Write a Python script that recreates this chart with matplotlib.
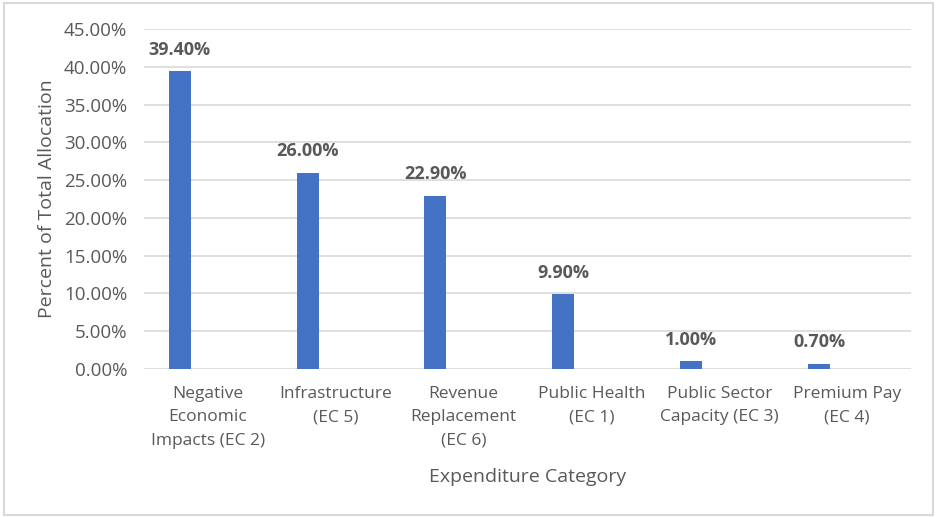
import matplotlib
matplotlib.use("Agg")
import matplotlib.pyplot as plt
from matplotlib.patches import Rectangle
import numpy as np

categories = ["Negative\nEconomic\nImpacts (EC 2)", "Infrastructure\n(EC 5)",
              "Revenue\nReplacement\n(EC 6)", "Public Health\n(EC 1)",
              "Public Sector\nCapacity (EC 3)", "Premium Pay\n(EC 4)"]
shares = [39.4, 26.0, 22.9, 9.9, 1.0, 0.7]
yticks = np.arange(0, 46, 5)

BLUE = "#4472C4"
TXT = "#595959"
GRID = "#D9D9D9"

plt.rcParams["font.family"] = ["Open Sans", "DejaVu Sans"]

fig = plt.figure(figsize=(9.37, 5.17), dpi=100)
fig.patches.append(Rectangle((0.004, 0.004), 0.992, 0.99, transform=fig.transFigure,
                             fill=False, edgecolor=GRID, lw=1.5))
ax = fig.add_axes([0.1537, 0.2863, 0.8186, 0.6576])

x = np.arange(len(categories))
bar_x = x - 0.22                      # Excel-style offset (empty second series)
ax.bar(bar_x, shares, width=0.172, color=BLUE, zorder=3)
for bx, v in zip(bar_x, shares):
    ax.annotate(f"{v:.2f}%", (bx, v), xytext=(0, 9), textcoords="offset points",
                ha="center", va="bottom", fontsize=13, fontweight="bold", color=TXT)

ax.set_xlim(-0.5, len(categories) - 0.5)
ax.set_ylim(0, 45)
ax.set_yticks(yticks)
ax.set_yticklabels([f"{t:.2f}%" for t in yticks])
ax.set_xticks(x)
ax.set_xticklabels(categories, linespacing=1.62)
ax.tick_params(axis="both", length=0, labelcolor=TXT)
ax.tick_params(axis="x", pad=12, labelsize=12.5)
ax.tick_params(axis="y", pad=12, labelsize=13.5)
ax.grid(axis="y", color=GRID, lw=1.2, zorder=0)
for s in ax.spines.values():
    s.set_visible(False)

ax.set_ylabel("Percent of Total Allocation", fontsize=14, color=TXT, va="center")
ax.yaxis.set_label_coords(-0.126, 0.5)
ax.set_xlabel("Expenditure Category", fontsize=14, color=TXT, va="center")
ax.xaxis.set_label_coords(0.5, -0.318)

fig.savefig("out.png", dpi=100)
